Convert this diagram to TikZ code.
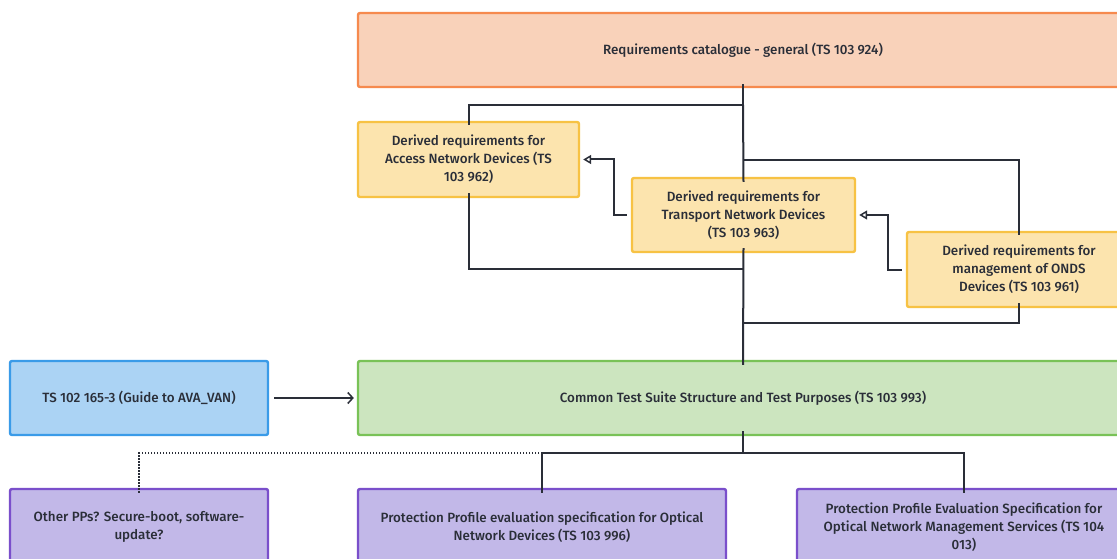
\documentclass[tikz,border=0pt]{standalone}
\usepackage{fontspec}
\setmainfont{Fira Sans}[UprightFont={* Medium}]
\usetikzlibrary{arrows.meta,calc}
\definecolor{orangefill}{HTML}{F9D2BA}
\definecolor{orangeline}{HTML}{F68A4E}
\definecolor{yellowfill}{HTML}{FCE4AE}
\definecolor{yellowline}{HTML}{F7C244}
\definecolor{bluefill}{HTML}{ABD3F4}
\definecolor{blueline}{HTML}{3A9BE8}
\definecolor{greenfill}{HTML}{CCE5BF}
\definecolor{greenline}{HTML}{79C257}
\definecolor{purplefill}{HTML}{C2B8E8}
\definecolor{purpleline}{HTML}{7A4FCB}
\definecolor{linkcol}{HTML}{2A2E38}
\tikzset{
  box/.style={rectangle, rounded corners=2pt, line width=2.4pt, align=center,
    font=\fontsize{13.4}{18}\selectfont, text=linkcol, inner sep=0pt},
  catbox/.style={box, fill=orangefill, draw=orangeline},
  derbox/.style={box, fill=yellowfill, draw=yellowline},
  guidebox/.style={box, fill=bluefill, draw=blueline},
  suitebox/.style={box, fill=greenfill, draw=greenline},
  ppbox/.style={box, fill=purplefill, draw=purpleline},
  link/.style={line width=2pt, draw=linkcol},
  hollow/.style={link, -{Triangle[open, length=8pt, width=9pt, line width=1.5pt]}}
}
\begin{document}
\begin{tikzpicture}[x=1pt,y=-1pt]
\clip (0,0) rectangle (1117,559);
\fill[white] (0,0) rectangle (1117,559);
%% boxes
\node[catbox, minimum width=770, minimum height=74] (catalogue) at (743,50) {Requirements catalogue - general (TS 103 924)};
\node[derbox, minimum width=221, minimum height=75] (access) at (468.5,159.5) {Derived requirements for\\Access Network Devices (TS\\103 962)};
\node[derbox, minimum width=223, minimum height=74] (transport) at (743.5,215) {Derived requirements for\\Transport Network Devices\\(TS 103 963)};
\node[derbox, minimum width=224, minimum height=75] (onds) at (1019,269.5) {Derived requirements for\\management of ONDS\\Devices (TS 103 961)};
\node[guidebox, minimum width=258, minimum height=74] (guide) at (139,398) {TS 102 165-3 (Guide to AVA\_VAN)};
\node[suitebox, minimum width=770, minimum height=74] (suite) at (743,398) {Common Test Suite Structure and Test Purposes (TS 103 993)};
\node[ppbox, minimum width=258, minimum height=76] (other) at (139,527) {Other PPs? Secure-boot, software-\\update?};
\node[ppbox, minimum width=368, minimum height=76] (ppond) at (542,527) {Protection Profile evaluation specification for Optical\\Network Devices (TS 103 996)};
\node[ppbox, minimum width=334, minimum height=76] (ppmgmt) at (964,527) {Protection Profile Evaluation Specification for\\Optical Network Management Services (TS 104\\013)};
%% junctions
\coordinate (splitA) at (743,105);
\coordinate (splitB) at (743,160);
\coordinate (mergeA) at (743,269);
\coordinate (mergeB) at (743,323);
\coordinate (fork) at (743,453);
%% catalogue to derived
\draw[link] ([yshift=4pt]catalogue.south) -- (splitA) -| ([yshift=-4pt]access.north); %%Access
\draw[link] (splitA) -- ([yshift=-5pt]transport.north); %%Transport
\draw[link] (splitB) -| ([yshift=-4pt]onds.north); %%ONDS
%% derived to suite
\draw[link] ([yshift=5pt]access.south) |- (mergeA); %%Access
\draw[link] ([yshift=5pt]onds.south) |- (mergeB); %%ONDS
\draw[link] ([yshift=5pt]transport.south) -- ([yshift=-5pt]suite.north); %%Transport
%% derived refines
\draw[hollow] ([xshift=-4pt]transport.west) -- ++(-13,0) |- ([xshift=3pt]access.east);
\draw[hollow] ([xshift=-4pt]onds.west) -- ++(-14,0) |- ([xshift=3pt]transport.east);
%% guide
\draw[link, -{Straight Barb[length=5pt, width=11pt, line width=1.5pt]}, shorten <=5pt, shorten >=3pt] (guide.east) -- (suite.west);
%% suite to profiles
\draw[link] ([yshift=5pt]suite.south) -- (fork);
\draw[link] (ppond.north |- fork) -| ([yshift=-5pt]ppmgmt.north);
\draw[link] (ppond.north |- fork) -- ([yshift=-5pt]ppond.north);
\draw[link, line width=1.5pt, dash pattern=on 1.5pt off 1.5pt] (ppond.north |- fork) -| ([yshift=-6pt]other.north);
\end{tikzpicture}
\end{document}
